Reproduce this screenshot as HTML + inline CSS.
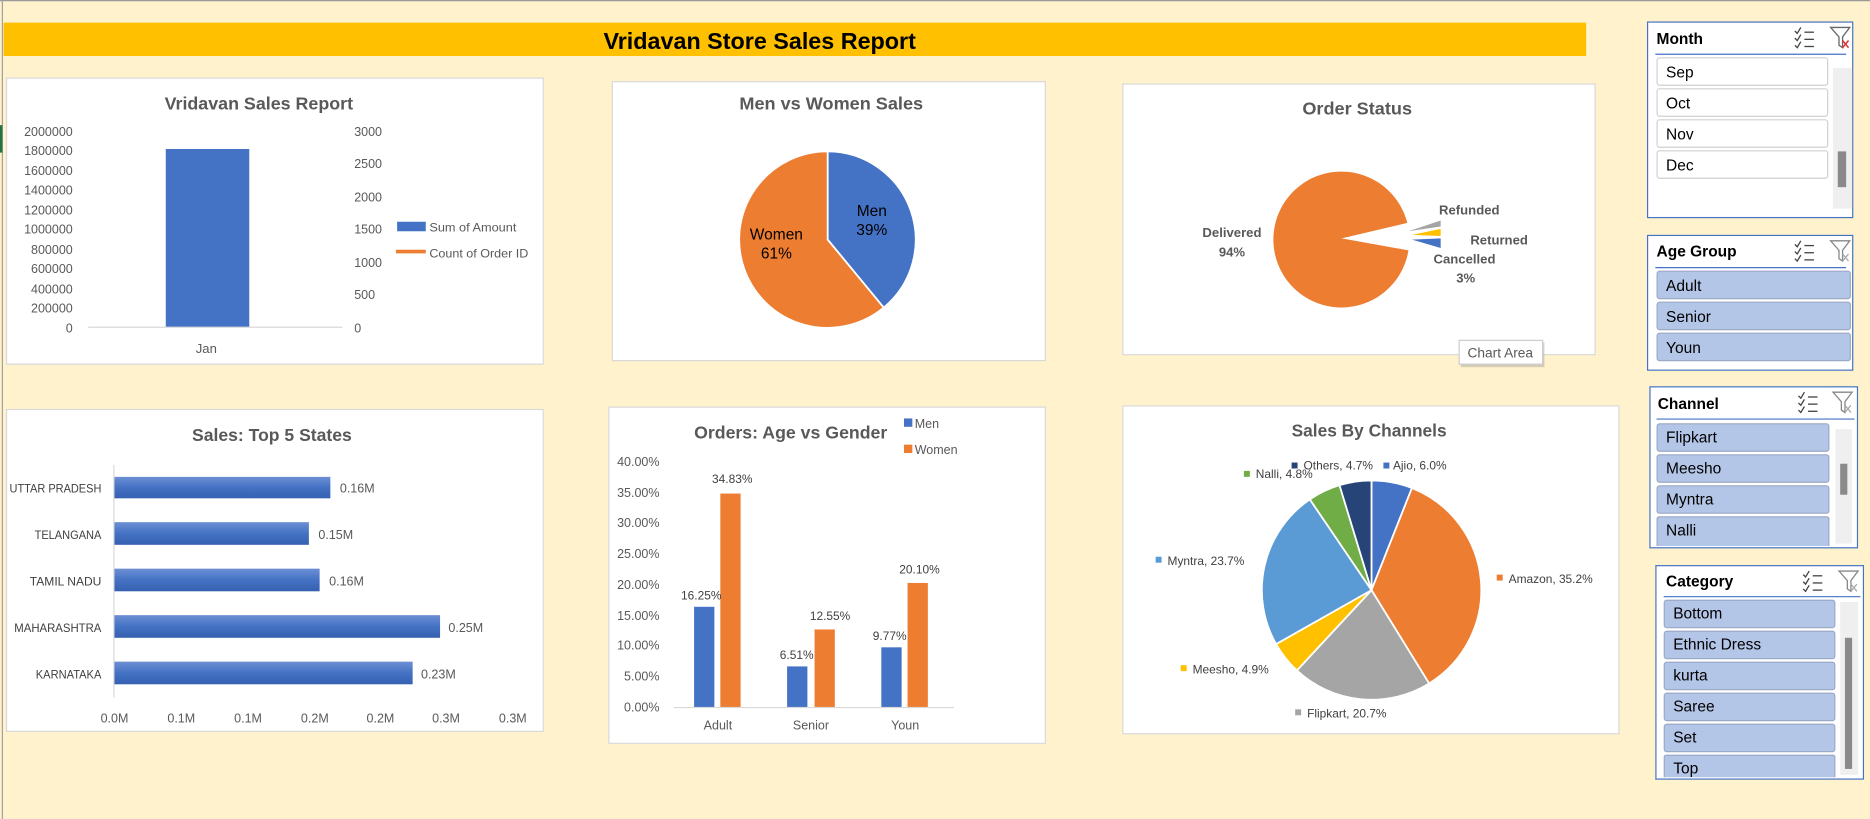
<!DOCTYPE html>
<html><head><meta charset="utf-8"><style>
html,body{margin:0;padding:0;width:1870px;height:819px;overflow:hidden;background:#FFF2CC}
svg{display:block}
text{font-family:"Liberation Sans",sans-serif}
</style></head><body>
<svg width="1870" height="819" viewBox="0 0 1568 687" preserveAspectRatio="none">
<rect x="0" y="0" width="1568" height="687" fill="#FFF2CC"/>
<line x1="0" y1="0.5" x2="1568" y2="0.5" stroke="#9a9a9a"/>
<line x1="2" y1="0" x2="2" y2="687" stroke="#a0a0a0"/>
<line x1="1" y1="105" x2="1" y2="128" stroke="#217346" stroke-width="2"/>
<!-- Title bar -->
<rect x="3" y="19" width="1327" height="28" fill="#FFC000"/>
<text x="637" y="41" font-size="19" font-weight="bold" text-anchor="middle" fill="#000" textLength="262" lengthAdjust="spacingAndGlyphs">Vridavan Store Sales Report</text>

<g font-size="11" fill="#595959">
<!-- Chart 1 -->
<rect x="5.5" y="65.5" width="450" height="240" fill="#fff" stroke="#d9d9d9"/>
<text x="217" y="92" font-size="15" font-weight="bold" text-anchor="middle" textLength="158" lengthAdjust="spacingAndGlyphs">Vridavan Sales Report</text>
<g text-anchor="end" font-size="10.5">
<text x="61" y="114">2000000</text><text x="61" y="130">1800000</text><text x="61" y="147">1600000</text><text x="61" y="163">1400000</text><text x="61" y="180">1200000</text><text x="61" y="196">1000000</text><text x="61" y="213">800000</text><text x="61" y="229">600000</text><text x="61" y="246">400000</text><text x="61" y="262">200000</text><text x="61" y="279">0</text>
</g>
<g font-size="10.5">
<text x="297" y="114">3000</text><text x="297" y="141">2500</text><text x="297" y="169">2000</text><text x="297" y="196">1500</text><text x="297" y="224">1000</text><text x="297" y="251">500</text><text x="297" y="279">0</text>
</g>
<line x1="74" y1="274.5" x2="287" y2="274.5" stroke="#d9d9d9"/>
<rect x="139" y="125" width="70" height="149" fill="#4472C4"/>
<text x="173" y="296" text-anchor="middle">Jan</text>
<rect x="333" y="186" width="24" height="8" fill="#4472C4"/>
<text x="360" y="194" font-size="10" textLength="73" lengthAdjust="spacingAndGlyphs">Sum of Amount</text>
<line x1="332" y1="211" x2="357" y2="211" stroke="#ED7D31" stroke-width="3"/>
<text x="360" y="216" font-size="10" textLength="83" lengthAdjust="spacingAndGlyphs">Count of Order ID</text>

<!-- Chart 2 -->
<rect x="513.5" y="68.5" width="363" height="234" fill="#fff" stroke="#d9d9d9"/>
<text x="697" y="92" font-size="15" font-weight="bold" text-anchor="middle" textLength="154" lengthAdjust="spacingAndGlyphs">Men vs Women Sales</text>
<path d="M694,201 L694,127 A74,74 0 0,1 741,258 Z" fill="#4472C4" stroke="#fff" stroke-width="1.5"/>
<path d="M694,201 L741,258 A74,74 0 1,1 694,127 Z" fill="#ED7D31" stroke="#fff" stroke-width="1.5"/>
<g fill="#000" font-size="13" text-anchor="middle">
<text x="731" y="181">Men</text><text x="731" y="197">39%</text>
<text x="651" y="201">Women</text><text x="651" y="217">61%</text>
</g>

<!-- Chart 3 -->
<rect x="941.5" y="70.5" width="396" height="227" fill="#fff" stroke="#d9d9d9"/>
<text x="1138" y="96" font-size="15" font-weight="bold" text-anchor="middle" textLength="92" lengthAdjust="spacingAndGlyphs">Order Status</text>
<path d="M1125,200 L1180,187 A57,57 0 1,0 1181,210 Z" fill="#ED7D31"/>
<polygon points="1181,194 1208,185 1208,190" fill="#A5A5A5"/>
<polygon points="1184,197 1208,192 1208,198" fill="#FFC000"/>
<polygon points="1184,201 1208,200 1208,208" fill="#4472C4"/>
<g font-weight="bold" text-anchor="middle" font-size="11">
<text x="1232" y="180">Refunded</text>
<text x="1257" y="205">Returned</text>
<text x="1228" y="221">Cancelled</text>
<text x="1229" y="237">3%</text>
<text x="1033" y="199">Delivered</text>
<text x="1033" y="215">94%</text>
</g>
<rect x="1225" y="287" width="70" height="21" fill="#888" opacity=".35"/>
<rect x="1223.5" y="285.5" width="70" height="20" fill="#fff" stroke="#ccc"/>
<text x="1258" y="300" text-anchor="middle" font-size="11.5">Chart Area</text>

<!-- Chart 4 -->
<rect x="5.5" y="343.5" width="450" height="270" fill="#fff" stroke="#d9d9d9"/>
<text x="228" y="370" font-size="15" font-weight="bold" text-anchor="middle" textLength="134" lengthAdjust="spacingAndGlyphs">Sales: Top 5 States</text>
<defs><linearGradient id="bg" x1="0" y1="0" x2="0" y2="1"><stop offset="0" stop-color="#6d8fd4"/><stop offset=".5" stop-color="#4472C4"/><stop offset="1" stop-color="#3660b0"/></linearGradient></defs>
<line x1="95.5" y1="390" x2="95.5" y2="585" stroke="#d9d9d9"/>
<g fill="url(#bg)">
<rect x="96" y="400" width="181" height="18"/>
<rect x="96" y="438" width="163" height="19"/>
<rect x="96" y="477" width="172" height="19"/>
<rect x="96" y="516" width="273" height="19"/>
<rect x="96" y="555" width="250" height="19"/>
</g>
<g font-size="10" text-anchor="end" fill="#404040">
<text x="85" y="413" textLength="77" lengthAdjust="spacingAndGlyphs">UTTAR PRADESH</text><text x="85" y="452" textLength="56" lengthAdjust="spacingAndGlyphs">TELANGANA</text><text x="85" y="491" textLength="60" lengthAdjust="spacingAndGlyphs">TAMIL NADU</text><text x="85" y="530" textLength="73" lengthAdjust="spacingAndGlyphs">MAHARASHTRA</text><text x="85" y="569" textLength="55" lengthAdjust="spacingAndGlyphs">KARNATAKA</text>
</g>
<g font-size="10.5">
<text x="285" y="413">0.16M</text><text x="267" y="452">0.15M</text><text x="276" y="491">0.16M</text><text x="376" y="530">0.25M</text><text x="353" y="569">0.23M</text>
</g>
<g font-size="10.5" text-anchor="middle">
<text x="96" y="606">0.0M</text><text x="152" y="606">0.1M</text><text x="208" y="606">0.1M</text><text x="264" y="606">0.2M</text><text x="319" y="606">0.2M</text><text x="374" y="606">0.3M</text><text x="430" y="606">0.3M</text>
</g>

<!-- Chart 5 -->
<rect x="510.5" y="341.5" width="366" height="282" fill="#fff" stroke="#d9d9d9"/>
<text x="663" y="368" font-size="15" font-weight="bold" text-anchor="middle" textLength="162" lengthAdjust="spacingAndGlyphs">Orders: Age vs Gender</text>
<rect x="758" y="351" width="7" height="7" fill="#4472C4"/><text x="767" y="359" font-size="10.5">Men</text>
<rect x="758" y="373" width="7" height="7" fill="#ED7D31"/><text x="767" y="381" font-size="10.5">Women</text>
<g font-size="10.5" text-anchor="end">
<text x="553" y="391">40.00%</text><text x="553" y="417">35.00%</text><text x="553" y="442">30.00%</text><text x="553" y="468">25.00%</text><text x="553" y="494">20.00%</text><text x="553" y="520">15.00%</text><text x="553" y="545">10.00%</text><text x="553" y="571">5.00%</text><text x="553" y="597">0.00%</text>
</g>
<line x1="565" y1="593.5" x2="800" y2="593.5" stroke="#d9d9d9"/>
<rect x="582" y="509" width="17" height="84" fill="#4472C4"/>
<rect x="604" y="414" width="17" height="179" fill="#ED7D31"/>
<rect x="660" y="559" width="17" height="34" fill="#4472C4"/>
<rect x="683" y="528" width="17" height="65" fill="#ED7D31"/>
<rect x="739" y="543" width="17" height="50" fill="#4472C4"/>
<rect x="761" y="489" width="17" height="104" fill="#ED7D31"/>
<g font-size="10" text-anchor="middle" fill="#404040">
<text x="588" y="503">16.25%</text><text x="614" y="405">34.83%</text>
<text x="668" y="553">6.51%</text><text x="696" y="520">12.55%</text>
<text x="746" y="537">9.77%</text><text x="771" y="481">20.10%</text>
</g>
<g font-size="10.5" text-anchor="middle">
<text x="602" y="612">Adult</text><text x="680" y="612">Senior</text><text x="759" y="612">Youn</text>
</g>

<!-- Chart 6 -->
<rect x="941.5" y="340.5" width="416" height="275" fill="#fff" stroke="#d9d9d9"/>
<text x="1148" y="366" font-size="15" font-weight="bold" text-anchor="middle" textLength="130" lengthAdjust="spacingAndGlyphs">Sales By Channels</text>
<g stroke="#fff" stroke-width="1.5">
<path d="M1150,495 L1150,403 A92,92 0 0,1 1183.9,409.4 Z" fill="#4472C4"/>
<path d="M1150,495 L1183.9,409.4 A92,92 0 0,1 1198.3,573.3 Z" fill="#ED7D31"/>
<path d="M1150,495 L1198.3,573.3 A92,92 0 0,1 1087.4,562.4 Z" fill="#A5A5A5"/>
<path d="M1150,495 L1087.4,562.4 A92,92 0 0,1 1070,540.3 Z" fill="#FFC000"/>
<path d="M1150,495 L1070,540.3 A92,92 0 0,1 1098.3,418.9 Z" fill="#5B9BD5"/>
<path d="M1150,495 L1098.3,418.9 A92,92 0 0,1 1123.2,407 Z" fill="#70AD47"/>
<path d="M1150,495 L1123.2,407 A92,92 0 0,1 1150,403 Z" fill="#264478"/>
</g>
<g font-size="10" fill="#404040">
<rect x="1160" y="388" width="5" height="5" fill="#4472C4"/><text x="1168" y="394">Ajio, 6.0%</text>
<rect x="1083" y="388" width="5" height="5" fill="#264478"/><text x="1093" y="394">Others, 4.7%</text>
<rect x="1043" y="395" width="5" height="5" fill="#70AD47"/><text x="1053" y="401">Nalli, 4.8%</text>
<rect x="969" y="467" width="5" height="5" fill="#5B9BD5"/><text x="979" y="474">Myntra, 23.7%</text>
<rect x="1255" y="482" width="5" height="5" fill="#ED7D31"/><text x="1265" y="489">Amazon, 35.2%</text>
<rect x="990" y="558" width="5" height="5" fill="#FFC000"/><text x="1000" y="565">Meesho, 4.9%</text>
<rect x="1086" y="595" width="5" height="5" fill="#A5A5A5"/><text x="1096" y="602">Flipkart, 20.7%</text>
</g>
</g>

<!-- Slicers -->
<defs>
<g id="ms"><g stroke="#444" stroke-width="1.1" fill="none">
<path d="M0,3 l2,2 l3,-5"/><path d="M0,9 l2,2 l3,-5"/><path d="M0,15 l2,2 l3,-5"/>
<line x1="8" y1="4" x2="16" y2="4"/><line x1="8" y1="10" x2="16" y2="10"/><line x1="8" y1="16" x2="16" y2="16"/></g></g>
<g id="fl"><path d="M0,0 L16,0 L10,8 L10,17 L7,15 L7,8 Z" fill="none" stroke="#888" stroke-width="1.1"/><path d="M10,11 l5,6 M15,11 l-5,6" stroke="#aaa" stroke-width="1.1"/></g>
<g id="flr"><path d="M0,0 L16,0 L10,8 L10,17 L7,15 L7,8 Z" fill="none" stroke="#666" stroke-width="1.1"/><path d="M10,11 l5,6 M15,11 l-5,6" stroke="#e03030" stroke-width="1.3"/></g>
</defs>
<g font-size="13" fill="#000">
<!-- Month -->
<rect x="1381.5" y="18.5" width="172" height="164" fill="#fff" stroke="#4472C4"/>
<text x="1389" y="37" font-weight="bold">Month</text>
<use href="#ms" x="1505" y="23"/><use href="#flr" x="1535" y="23"/>
<line x1="1388" y1="45.5" x2="1548" y2="45.5" stroke="#4472C4"/>
<g fill="#fff" stroke="#d0d0d0">
<rect x="1389.5" y="48.5" width="143" height="23" rx="2"/><rect x="1389.5" y="74.5" width="143" height="23" rx="2"/><rect x="1389.5" y="100.5" width="143" height="23" rx="2"/><rect x="1389.5" y="126.5" width="143" height="23" rx="2"/>
</g>
<text x="1397" y="65">Sep</text><text x="1397" y="91">Oct</text><text x="1397" y="117">Nov</text><text x="1397" y="143">Dec</text>
<rect x="1537" y="57" width="16" height="118" fill="#efefef"/><rect x="1541" y="127" width="7" height="30" fill="#8a8a8a"/>
<!-- Age Group -->
<rect x="1381.5" y="197.5" width="172" height="113" fill="#fff" stroke="#4472C4"/>
<text x="1389" y="215" font-weight="bold">Age Group</text>
<use href="#ms" x="1505" y="202"/><use href="#fl" x="1535" y="202"/>
<line x1="1388" y1="224.5" x2="1548" y2="224.5" stroke="#4472C4"/>
<g fill="#B4C6E7" stroke="#9aa9c6">
<rect x="1389.5" y="227.5" width="162" height="23" rx="2"/><rect x="1389.5" y="253.5" width="162" height="23" rx="2"/><rect x="1389.5" y="279.5" width="162" height="23" rx="2"/>
</g>
<text x="1397" y="244">Adult</text><text x="1397" y="270">Senior</text><text x="1397" y="296">Youn</text>
<!-- Channel -->
<rect x="1383.5" y="324.5" width="174" height="135" fill="#fff" stroke="#4472C4"/>
<text x="1390" y="343" font-weight="bold">Channel</text>
<use href="#ms" x="1508" y="329"/><use href="#fl" x="1537" y="329"/>
<line x1="1389" y1="351.5" x2="1555" y2="351.5" stroke="#4472C4"/>
<g fill="#B4C6E7" stroke="#9aa9c6">
<rect x="1389.5" y="355.5" width="144" height="23" rx="2"/><rect x="1389.5" y="381.5" width="144" height="23" rx="2"/><rect x="1389.5" y="407.5" width="144" height="23" rx="2"/><path d="M1389.5,458 L1389.5,435 Q1389.5,433.5 1391.5,433.5 L1531.5,433.5 Q1533.5,433.5 1533.5,435 L1533.5,458"/>
</g>
<text x="1397" y="371">Flipkart</text><text x="1397" y="397">Meesho</text><text x="1397" y="423">Myntra</text><text x="1397" y="449">Nalli</text>
<rect x="1539" y="360" width="14" height="96" fill="#efefef"/><rect x="1543" y="389" width="6" height="26" fill="#8a8a8a"/>
<!-- Category -->
<rect x="1388.5" y="474.5" width="174" height="179" fill="#fff" stroke="#4472C4"/>
<text x="1397" y="492" font-weight="bold">Category</text>
<use href="#ms" x="1512" y="479"/><use href="#fl" x="1542" y="479"/>
<line x1="1395" y1="500.5" x2="1560" y2="500.5" stroke="#4472C4"/>
<g fill="#B4C6E7" stroke="#9aa9c6">
<rect x="1395.5" y="503.5" width="143" height="23" rx="2"/><rect x="1395.5" y="529.5" width="143" height="23" rx="2"/><rect x="1395.5" y="555.5" width="143" height="23" rx="2"/><rect x="1395.5" y="581.5" width="143" height="23" rx="2"/><rect x="1395.5" y="607.5" width="143" height="23" rx="2"/><path d="M1395.5,652 L1395.5,635 Q1395.5,633.5 1397.5,633.5 L1536.5,633.5 Q1538.5,633.5 1538.5,635 L1538.5,652"/>
</g>
<text x="1403" y="519">Bottom</text><text x="1403" y="545">Ethnic Dress</text><text x="1403" y="571">kurta</text><text x="1403" y="597">Saree</text><text x="1403" y="623">Set</text><text x="1403" y="649">Top</text>
<rect x="1543" y="505" width="15" height="145" fill="#efefef"/><rect x="1547" y="535" width="6" height="110" fill="#8a8a8a"/>
<rect x="1388" y="654" width="176" height="33" fill="#FFF2CC"/>
<line x1="1388" y1="653.5" x2="1563" y2="653.5" stroke="#4472C4"/>
</g>
</svg>
</body></html>
